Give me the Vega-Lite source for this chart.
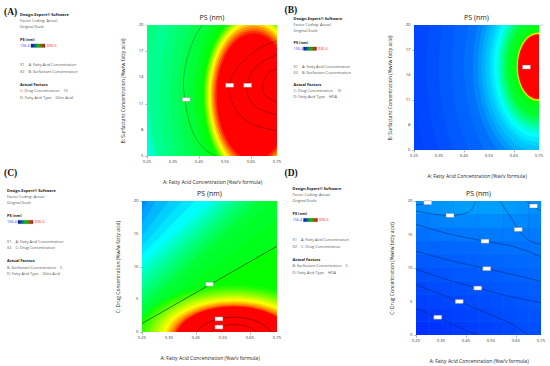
{
"$schema":"https://vega.github.io/schema/vega-lite/v6.json",
"padding":{"top":2,"left":0,"right":0,"bottom":0},
"config":{"view":{"stroke":null},"font":"Open Sans",
"point":{"filled":true,"opacity":1,"strokeWidth":0},
"axis":{"domain":false,"grid":false,"labels":false,"tickSize":2,"tickWidth":0.5,"tickColor":"#555","titleFontSize":5,"titleFontWeight":"normal","titleColor":"#222","titleFont":"Open Sans"},
"text":{"fontSize":4.2,"color":"#333"},
"title":{"fontSize":7,"fontWeight":"normal","color":"#222","offset":2,"font":"Open Sans"}},
"spacing":2,
"vconcat":[
{"spacing":0,"hconcat":[
{"width":120,"height":100,
"data":{"values":[
{"k":"p","t":"(A)","col":4,"line":-13},
{"k":"b","t":"Design-Expert® Software","col":20,"line":-9.7},
{"k":"n","t":"Factor Coding: Actual","col":20,"line":-3.7},
{"k":"n","t":"Original Scale","col":20,"line":2},
{"k":"b","t":"PS (nm)","col":20,"line":15},
{"k":"lo","t":"156.4","col":20,"line":20.7},
{"k":"bar","col":31,"col2":45,"line":19,"line2":22.4},
{"k":"hi","t":"836.6","col":47,"line":20.7},
{"k":"n","t":"X1 = A: Fatty Acid Concentration","col":20,"line":40},
{"k":"n","t":"X2 = B: Surfactant Concentration","col":20,"line":47},
{"k":"b","t":"Actual Factors","col":20,"line":60},
{"k":"n","t":"C: Drug Concentration = 10","col":20,"line":66},
{"k":"n","t":"D: Fatty Acid Type = Oleic Acid","col":20,"line":73},
{"k":"p","t":"(C)","col":4,"line":148}]},
"encoding":{"x":{"field":"col","type":"quantitative","scale":{"domain":[0,120],"nice":false,"zero":false},"axis":null},"y":{"field":"line","type":"quantitative","scale":{"domain":[100,0],"nice":false,"zero":false},"axis":null}},
"layer":[
{"transform":[{"filter":{"field":"k","equal":"p"}}],"mark":{"type":"text","font":"Liberation Serif","fontSize":9.5,"fontWeight":"bold","align":"left","baseline":"middle","color":"#111"},"encoding":{"text":{"field":"t"}}},
{"transform":[{"filter":{"field":"k","equal":"b"}}],"mark":{"type":"text","fontSize":3.9,"fontWeight":"bold","align":"left","baseline":"middle","color":"#222"},"encoding":{"text":{"field":"t"}}},
{"transform":[{"filter":{"field":"k","equal":"n"}}],"mark":{"type":"text","fontSize":3.8,"align":"left","baseline":"middle","color":"#555"},"encoding":{"text":{"field":"t"}}},
{"transform":[{"filter":{"field":"k","equal":"lo"}}],"mark":{"type":"text","fontSize":3.8,"align":"left","baseline":"middle","color":"#3333ff"},"encoding":{"text":{"field":"t"}}},
{"transform":[{"filter":{"field":"k","equal":"hi"}}],"mark":{"type":"text","fontSize":3.8,"align":"left","baseline":"middle","color":"#ff3333"},"encoding":{"text":{"field":"t"}}},
{"transform":[{"filter":{"field":"k","equal":"bar"}}],"mark":{"type":"rect","fill":{"gradient":"linear","stops":[{"offset":0,"color":"#0000ff"},{"offset":0.5,"color":"#00cc00"},{"offset":1,"color":"#ff0000"}]},"stroke":"#333","strokeWidth":0.3},"encoding":{"x2":{"field":"col2"},"y2":{"field":"line2"}}}]},
{"width":130,"height":131,
"title":{"text":["","PS (nm)"],"lineHeight":12},
"layer":[
{"data":{"values":[{"v":390}]},"mark":"rect","encoding":{
"x":{"datum":0.25,"type":"quantitative","scale":{"domain":[0.25,0.75],"nice":false,"zero":false},"axis":{"values":[0.25,0.35,0.45,0.55,0.65,0.75],"title":"A: Fatty Acid Concentration (%w/v formula)","titlePadding":21}},
"x2":{"datum":0.75},
"y":{"datum":5,"type":"quantitative","scale":{"domain":[5,20],"nice":false,"zero":false},"axis":{"values":[5,8,11,14,17,20],"title":"B: Surfactant Concentration  (%w/w fatty acid)","titlePadding":19}},
"y2":{"datum":20},
"color":{"field":"v","type":"quantitative","scale":{"domain":[156.4,326.5,496.5,666.6,836.6],"range":["#0000ff","#00ffff","#00ff00","#ffff00","#ff0000"],"interpolate":"rgb","clamp":true},"legend":null}}},
{"data":{"values":[{"y":5,"y2":6.5,"v":358},{"y":6.5,"y2":8,"v":366},{"y":8,"y2":9.5,"v":374},{"y":9.5,"y2":11,"v":382},{"y":11,"y2":12.5,"v":389},{"y":12.5,"y2":14,"v":395},{"y":14,"y2":15.5,"v":400},{"y":15.5,"y2":17,"v":404},{"y":17,"y2":18.5,"v":408},{"y":18.5,"y2":20,"v":412}]},
"mark":"rect","encoding":{"x":{"datum":0.25,"type":"quantitative","scale":{"domain":[0.25,0.75]}},"x2":{"datum":0.75},"y":{"field":"y","type":"quantitative","scale":{"domain":[5,20]}},"y2":{"field":"y2"},
"color":{"field":"v","type":"quantitative","scale":{"domain":[156.4,326.5,496.5,666.6,836.6],"range":["#0000ff","#00ffff","#00ff00","#ffff00","#ff0000"],"interpolate":"rgb","clamp":true},"legend":null}}},
{"encoding":{"x":{"datum":0.66,"type":"quantitative","scale":{"domain":[0.25,0.75]}},"y":{"datum":12,"type":"quantitative","scale":{"domain":[5,20]}},
"color":{"field":"v","type":"quantitative","scale":{"domain":[156.4,326.5,496.5,666.6,836.6],"range":["#0000ff","#00ffff","#00ff00","#ffff00","#ff0000"],"interpolate":"rgb","clamp":true},"legend":null}},
"layer":[
{"data":{"values":[{"v":400}]},"mark":{"type":"point","shape":"M-1,0A1,1.66 0 0,1 1,0A1,1.77 0 0,1 -1,0Z","size":43264,"clip":true}},
{"data":{"values":[{"v":415}]},"mark":{"type":"point","shape":"M-1,0A1,1.66 0 0,1 1,0A1,1.77 0 0,1 -1,0Z","size":35044,"clip":true}},
{"data":{"values":[{"v":430}]},"mark":{"type":"point","shape":"M-1,0A1,1.66 0 0,1 1,0A1,1.77 0 0,1 -1,0Z","size":28561,"clip":true}},
{"data":{"values":[{"v":445}]},"mark":{"type":"point","shape":"M-1,0A1,1.66 0 0,1 1,0A1,1.77 0 0,1 -1,0Z","size":22741,"clip":true}},
{"data":{"values":[{"v":460}]},"mark":{"type":"point","shape":"M-1,0A1,1.66 0 0,1 1,0A1,1.77 0 0,1 -1,0Z","size":18279,"clip":true}},
{"data":{"values":[{"v":475}]},"mark":{"type":"point","shape":"M-1,0A1,1.66 0 0,1 1,0A1,1.77 0 0,1 -1,0Z","size":14304,"clip":true}},
{"data":{"values":[{"v":488}]},"mark":{"type":"point","shape":"M-1,0A1,1.66 0 0,1 1,0A1,1.77 0 0,1 -1,0Z","size":11925,"clip":true}},
{"data":{"values":[{"v":496}]},"mark":{"type":"point","shape":"M-1,0A1,1.66 0 0,1 1,0A1,1.77 0 0,1 -1,0Z","size":10494,"clip":true}},
{"data":{"values":[{"v":530}]},"mark":{"type":"point","shape":"M-1,0A1,1.66 0 0,1 1,0A1,1.77 0 0,1 -1,0Z","size":9968,"clip":true}},
{"data":{"values":[{"v":565}]},"mark":{"type":"point","shape":"M-1,0A1,1.66 0 0,1 1,0A1,1.77 0 0,1 -1,0Z","size":9456,"clip":true}},
{"data":{"values":[{"v":600}]},"mark":{"type":"point","shape":"M-1,0A1,1.66 0 0,1 1,0A1,1.77 0 0,1 -1,0Z","size":8957,"clip":true}},
{"data":{"values":[{"v":635}]},"mark":{"type":"point","shape":"M-1,0A1,1.66 0 0,1 1,0A1,1.77 0 0,1 -1,0Z","size":8471,"clip":true}},
{"data":{"values":[{"v":666}]},"mark":{"type":"point","shape":"M-1,0A1,1.66 0 0,1 1,0A1,1.77 0 0,1 -1,0Z","size":7999,"clip":true}},
{"data":{"values":[{"v":700}]},"mark":{"type":"point","shape":"M-1,0A1,1.66 0 0,1 1,0A1,1.77 0 0,1 -1,0Z","size":7451,"clip":true}},
{"data":{"values":[{"v":735}]},"mark":{"type":"point","shape":"M-1,0A1,1.66 0 0,1 1,0A1,1.77 0 0,1 -1,0Z","size":6922,"clip":true}},
{"data":{"values":[{"v":770}]},"mark":{"type":"point","shape":"M-1,0A1,1.66 0 0,1 1,0A1,1.77 0 0,1 -1,0Z","size":6413,"clip":true}},
{"data":{"values":[{"v":805}]},"mark":{"type":"point","shape":"M-1,0A1,1.66 0 0,1 1,0A1,1.77 0 0,1 -1,0Z","size":5923,"clip":true}},
{"data":{"values":[{"v":836}]},"mark":{"type":"point","shape":"M-1,0A1,1.66 0 0,1 1,0A1,1.77 0 0,1 -1,0Z","size":5452,"clip":true}}]},
{"data":{"values":[
{"id":"o","i":0,"x":0.463,"y":20},{"id":"o","i":1,"x":0.437,"y":18.8},{"id":"o","i":2,"x":0.413,"y":17},{"id":"o","i":3,"x":0.397,"y":15.2},{"id":"o","i":4,"x":0.39,"y":13.2},{"id":"o","i":5,"x":0.396,"y":11.5},{"id":"o","i":6,"x":0.405,"y":9.8},{"id":"o","i":7,"x":0.42,"y":8.2},{"id":"o","i":8,"x":0.443,"y":6.8},{"id":"o","i":9,"x":0.475,"y":5.7},{"id":"o","i":10,"x":0.514,"y":5},
{"id":"a1","i":0,"x":0.75,"y":18.2},{"id":"a1","i":1,"x":0.69,"y":17.5},{"id":"a1","i":2,"x":0.63,"y":16.1},{"id":"a1","i":3,"x":0.585,"y":14.6},{"id":"a1","i":4,"x":0.566,"y":13},{"id":"a1","i":5,"x":0.575,"y":11.3},{"id":"a1","i":6,"x":0.605,"y":9.8},{"id":"a1","i":7,"x":0.66,"y":8.6},{"id":"a1","i":8,"x":0.75,"y":7.9},
{"id":"a2","i":0,"x":0.75,"y":16.6},{"id":"a2","i":1,"x":0.7,"y":15.9},{"id":"a2","i":2,"x":0.655,"y":14.7},{"id":"a2","i":3,"x":0.634,"y":13.1},{"id":"a2","i":4,"x":0.643,"y":11.6},{"id":"a2","i":5,"x":0.675,"y":10.5},{"id":"a2","i":6,"x":0.75,"y":9.7},
{"id":"a3","i":0,"x":0.75,"y":15},{"id":"a3","i":1,"x":0.715,"y":14.4},{"id":"a3","i":2,"x":0.695,"y":13.1},{"id":"a3","i":3,"x":0.705,"y":11.9},{"id":"a3","i":4,"x":0.75,"y":11.2}]},
"mark":{"type":"line","stroke":"#000","strokeOpacity":0.45,"strokeWidth":0.6,"interpolate":"catmull-rom","clip":true},
"encoding":{"x":{"field":"x","type":"quantitative","scale":{"domain":[0.25,0.75]}},"y":{"field":"y","type":"quantitative","scale":{"domain":[5,20]}},"detail":{"field":"id","type":"nominal"},"order":{"field":"i","type":"quantitative"}}},
{"data":{"values":[{"x":0.401,"y":11.47},{"x":0.568,"y":13.1},{"x":0.637,"y":13.1}]},
"mark":{"type":"point","shape":"M-1,-0.5H1V0.5H-1Z","filled":true,"fill":"#ffffff","stroke":"#777","strokeWidth":0.4,"opacity":1,"size":64},
"encoding":{"x":{"field":"x","type":"quantitative","scale":{"domain":[0.25,0.75]}},"y":{"field":"y","type":"quantitative","scale":{"domain":[5,20]}}}},
{"data":{"values":[{"t":"0.25","x":0.25},{"t":"0.35","x":0.35},{"t":"0.45","x":0.45},{"t":"0.55","x":0.55},{"t":"0.65","x":0.65},{"t":"0.75","x":0.75}]},
"mark":{"type":"text","baseline":"top","dy":4},
"encoding":{"x":{"field":"x","type":"quantitative","scale":{"domain":[0.25,0.75]}},"y":{"datum":5,"type":"quantitative","scale":{"domain":[5,20]}},"text":{"field":"t"}}},
{"data":{"values":[{"t":"5","y":5},{"t":"8","y":8},{"t":"11","y":11},{"t":"14","y":14},{"t":"17","y":17},{"t":"20","y":20}]},
"mark":{"type":"text","align":"right","baseline":"middle","dx":-3.5},
"encoding":{"x":{"datum":0.25,"type":"quantitative","scale":{"domain":[0.25,0.75]}},"y":{"field":"y","type":"quantitative","scale":{"domain":[5,20]}},"text":{"field":"t"}}}]},
{"width":105,"height":100,
"data":{"values":[
{"k":"p","t":"(B)","col":2.5,"line":-15.5},
{"k":"b","t":"Design-Expert® Software","col":11.5,"line":-6},
{"k":"n","t":"Factor Coding: Actual","col":11.5,"line":0},
{"k":"n","t":"Original Scale","col":11.5,"line":6},
{"k":"b","t":"PS (nm)","col":11.5,"line":18},
{"k":"lo","t":"156.4","col":11.5,"line":23.7},
{"k":"bar","col":21.5,"col2":34.5,"line":22,"line2":25.4},
{"k":"hi","t":"836.6","col":36,"line":23.7},
{"k":"n","t":"X1 = A: Fatty Acid Concentration","col":11.5,"line":42},
{"k":"n","t":"X2 = B: Surfactant Concentration","col":11.5,"line":48},
{"k":"b","t":"Actual Factors","col":11.5,"line":59.5},
{"k":"n","t":"C: Drug Concentration = 10","col":11.5,"line":65.5},
{"k":"n","t":"D: Fatty Acid Type = HDA","col":11.5,"line":71.5},
{"k":"p","t":"(D)","col":2.5,"line":148}]},
"encoding":{"x":{"field":"col","type":"quantitative","scale":{"domain":[0,105],"nice":false,"zero":false},"axis":null},"y":{"field":"line","type":"quantitative","scale":{"domain":[100,0],"nice":false,"zero":false},"axis":null}},
"layer":[
{"transform":[{"filter":{"field":"k","equal":"p"}}],"mark":{"type":"text","font":"Liberation Serif","fontSize":9.5,"fontWeight":"bold","align":"left","baseline":"middle","color":"#111"},"encoding":{"text":{"field":"t"}}},
{"transform":[{"filter":{"field":"k","equal":"b"}}],"mark":{"type":"text","fontSize":3.9,"fontWeight":"bold","align":"left","baseline":"middle","color":"#222"},"encoding":{"text":{"field":"t"}}},
{"transform":[{"filter":{"field":"k","equal":"n"}}],"mark":{"type":"text","fontSize":3.8,"align":"left","baseline":"middle","color":"#555"},"encoding":{"text":{"field":"t"}}},
{"transform":[{"filter":{"field":"k","equal":"lo"}}],"mark":{"type":"text","fontSize":3.8,"align":"left","baseline":"middle","color":"#3333ff"},"encoding":{"text":{"field":"t"}}},
{"transform":[{"filter":{"field":"k","equal":"hi"}}],"mark":{"type":"text","fontSize":3.8,"align":"left","baseline":"middle","color":"#ff3333"},"encoding":{"text":{"field":"t"}}},
{"transform":[{"filter":{"field":"k","equal":"bar"}}],"mark":{"type":"rect","fill":{"gradient":"linear","stops":[{"offset":0,"color":"#0000ff"},{"offset":0.5,"color":"#00cc00"},{"offset":1,"color":"#ff0000"}]},"stroke":"#333","strokeWidth":0.3},"encoding":{"x2":{"field":"col2"},"y2":{"field":"line2"}}}]},
{"width":125,"height":125,
"title":{"text":["","PS (nm)"],"lineHeight":12},
"layer":[
{"data":{"values":[{"v":200}]},"mark":"rect","encoding":{
"x":{"datum":0.25,"type":"quantitative","scale":{"domain":[0.25,0.75],"nice":false,"zero":false},"axis":{"values":[0.25,0.35,0.45,0.55,0.65,0.75],"title":"A: Fatty Acid Concentration (%w/v formula)","titlePadding":21}},
"x2":{"datum":0.75},
"y":{"datum":5,"type":"quantitative","scale":{"domain":[5,20],"nice":false,"zero":false},"axis":{"values":[5,8,11,14,17,20],"title":"B: Surfactant Concentration  (%w/w fatty acid)","titlePadding":19}},
"y2":{"datum":20},
"color":{"field":"v","type":"quantitative","scale":{"domain":[156.4,326.5,496.5,666.6,836.6],"range":["#0000ff","#00ffff","#00ff00","#ffff00","#ff0000"],"interpolate":"rgb","clamp":true},"legend":null}}},
{"encoding":{"x":{"datum":0.745,"type":"quantitative","scale":{"domain":[0.25,0.75]}},"y":{"datum":15,"type":"quantitative","scale":{"domain":[5,20]}},
"color":{"field":"v","type":"quantitative","scale":{"domain":[156.4,326.5,496.5,666.6,836.6],"range":["#0000ff","#00ffff","#00ff00","#ffff00","#ff0000"],"interpolate":"rgb","clamp":true},"legend":null}},
"layer":[
{"data":{"values":[{"v":204}]},"mark":{"type":"point","shape":"M-1,0A1,1.623 0 1,1 1,0A1,1.623 0 1,1 -1,0Z","size":62500,"clip":true}},
{"data":{"values":[{"v":210}]},"mark":{"type":"point","shape":"M-1,0A1,1.623 0 1,1 1,0A1,1.623 0 1,1 -1,0Z","size":49506,"clip":true}},
{"data":{"values":[{"v":215}]},"mark":{"type":"point","shape":"M-1,0A1,1.623 0 1,1 1,0A1,1.623 0 1,1 -1,0Z","size":39006,"clip":true}},
{"data":{"values":[{"v":222}]},"mark":{"type":"point","shape":"M-1,0A1,1.623 0 1,1 1,0A1,1.623 0 1,1 -1,0Z","size":29756,"clip":true}},
{"data":{"values":[{"v":231}]},"mark":{"type":"point","shape":"M-1,0A1,1.623 0 1,1 1,0A1,1.623 0 1,1 -1,0Z","size":21756,"clip":true}},
{"data":{"values":[{"v":245}]},"mark":{"type":"point","shape":"M-1,0A1,1.623 0 1,1 1,0A1,1.623 0 1,1 -1,0Z","size":16900,"clip":true}},
{"data":{"values":[{"v":260}]},"mark":{"type":"point","shape":"M-1,0A1,1.623 0 1,1 1,0A1,1.623 0 1,1 -1,0Z","size":14400,"clip":true}},
{"data":{"values":[{"v":273}]},"mark":{"type":"point","shape":"M-1,0A1,1.623 0 1,1 1,0A1,1.623 0 1,1 -1,0Z","size":12656,"clip":true}},
{"data":{"values":[{"v":287}]},"mark":{"type":"point","shape":"M-1,0A1,1.623 0 1,1 1,0A1,1.623 0 1,1 -1,0Z","size":11025,"clip":true}},
{"data":{"values":[{"v":300}]},"mark":{"type":"point","shape":"M-1,0A1,1.623 0 1,1 1,0A1,1.623 0 1,1 -1,0Z","size":9506,"clip":true}},
{"data":{"values":[{"v":313}]},"mark":{"type":"point","shape":"M-1,0A1,1.623 0 1,1 1,0A1,1.623 0 1,1 -1,0Z","size":8556,"clip":true}},
{"data":{"values":[{"v":326}]},"mark":{"type":"point","shape":"M-1,0A1,1.623 0 1,1 1,0A1,1.623 0 1,1 -1,0Z","size":7569,"clip":true}},
{"data":{"values":[{"v":350}]},"mark":{"type":"point","shape":"M-1,0A1,1.623 0 1,1 1,0A1,1.623 0 1,1 -1,0Z","size":6806,"clip":true}},
{"data":{"values":[{"v":375}]},"mark":{"type":"point","shape":"M-1,0A1,1.623 0 1,1 1,0A1,1.623 0 1,1 -1,0Z","size":6006,"clip":true}},
{"data":{"values":[{"v":400}]},"mark":{"type":"point","shape":"M-1,0A1,1.623 0 1,1 1,0A1,1.623 0 1,1 -1,0Z","size":5402,"clip":true}},
{"data":{"values":[{"v":425}]},"mark":{"type":"point","shape":"M-1,0A1,1.623 0 1,1 1,0A1,1.623 0 1,1 -1,0Z","size":4761,"clip":true}},
{"data":{"values":[{"v":450}]},"mark":{"type":"point","shape":"M-1,0A1,1.623 0 1,1 1,0A1,1.623 0 1,1 -1,0Z","size":4160,"clip":true}},
{"data":{"values":[{"v":470}]},"mark":{"type":"point","shape":"M-1,0A1,1.623 0 1,1 1,0A1,1.623 0 1,1 -1,0Z","size":3600,"clip":true}},
{"data":{"values":[{"v":485}]},"mark":{"type":"point","shape":"M-1,0A1,1.623 0 1,1 1,0A1,1.623 0 1,1 -1,0Z","size":2500,"clip":true}},
{"data":{"values":[{"v":496}]},"mark":{"type":"point","shape":"M-1,0A1,1.623 0 1,1 1,0A1,1.623 0 1,1 -1,0Z","size":1936,"clip":true}},
{"data":{"values":[{"v":580}]},"mark":{"type":"point","shape":"M-1,0A1,1.623 0 1,1 1,0A1,1.623 0 1,1 -1,0Z","size":1806,"clip":true}},
{"data":{"values":[{"v":666}]},"mark":{"type":"point","shape":"M-1,0A1,1.623 0 1,1 1,0A1,1.623 0 1,1 -1,0Z","size":1722,"clip":true}},
{"data":{"values":[{"v":750}]},"mark":{"type":"point","shape":"M-1,0A1,1.623 0 1,1 1,0A1,1.623 0 1,1 -1,0Z","size":1640,"clip":true}},
{"data":{"values":[{"v":836}]},"mark":{"type":"point","shape":"M-1,0A1,1.623 0 1,1 1,0A1,1.623 0 1,1 -1,0Z","size":1560,"clip":true}}]},
{"data":{"values":[{"x":0.7,"y":14.95}]},
"mark":{"type":"point","shape":"M-1,-0.5H1V0.5H-1Z","filled":true,"fill":"#ffffff","stroke":"#777","strokeWidth":0.4,"opacity":1,"size":64},
"encoding":{"x":{"field":"x","type":"quantitative","scale":{"domain":[0.25,0.75]}},"y":{"field":"y","type":"quantitative","scale":{"domain":[5,20]}}}},
{"data":{"values":[{"t":"0.25","x":0.25},{"t":"0.35","x":0.35},{"t":"0.45","x":0.45},{"t":"0.55","x":0.55},{"t":"0.65","x":0.65},{"t":"0.75","x":0.75}]},
"mark":{"type":"text","baseline":"top","dy":4},
"encoding":{"x":{"field":"x","type":"quantitative","scale":{"domain":[0.25,0.75]}},"y":{"datum":5,"type":"quantitative","scale":{"domain":[5,20]}},"text":{"field":"t"}}},
{"data":{"values":[{"t":"5","y":5},{"t":"8","y":8},{"t":"11","y":11},{"t":"14","y":14},{"t":"17","y":17},{"t":"20","y":20}]},
"mark":{"type":"text","align":"right","baseline":"middle","dx":-3.5},
"encoding":{"x":{"datum":0.25,"type":"quantitative","scale":{"domain":[0.25,0.75]}},"y":{"field":"y","type":"quantitative","scale":{"domain":[5,20]}},"text":{"field":"t"}}}]}
]},
{"spacing":0,"hconcat":[
{"width":115,"height":80,
"data":{"values":[
{"k":"b","t":"Design-Expert® Software","col":7,"line":-10},
{"k":"n","t":"Factor Coding: Actual","col":7,"line":-4},
{"k":"n","t":"Original Scale","col":7,"line":2},
{"k":"b","t":"PS (nm)","col":7,"line":15},
{"k":"lo","t":"156.4","col":7,"line":21},
{"k":"bar","col":18,"col2":33,"line":19.3,"line2":22.7},
{"k":"hi","t":"836.6","col":35,"line":21},
{"k":"n","t":"X1 = A: Fatty Acid Concentration","col":7,"line":41},
{"k":"n","t":"X2 = C: Drug Concentration","col":7,"line":47},
{"k":"b","t":"Actual Factors","col":7,"line":60},
{"k":"n","t":"B: Surfactant Concentration  = 5","col":7,"line":67},
{"k":"n","t":"D: Fatty Acid Type = Oleic Acid","col":7,"line":73}]},
"encoding":{"x":{"field":"col","type":"quantitative","scale":{"domain":[0,115],"nice":false,"zero":false},"axis":null},"y":{"field":"line","type":"quantitative","scale":{"domain":[80,0],"nice":false,"zero":false},"axis":null}},
"layer":[
{"transform":[{"filter":{"field":"k","equal":"b"}}],"mark":{"type":"text","fontSize":3.9,"fontWeight":"bold","align":"left","baseline":"middle","color":"#222"},"encoding":{"text":{"field":"t"}}},
{"transform":[{"filter":{"field":"k","equal":"n"}}],"mark":{"type":"text","fontSize":3.8,"align":"left","baseline":"middle","color":"#555"},"encoding":{"text":{"field":"t"}}},
{"transform":[{"filter":{"field":"k","equal":"lo"}}],"mark":{"type":"text","fontSize":3.8,"align":"left","baseline":"middle","color":"#3333ff"},"encoding":{"text":{"field":"t"}}},
{"transform":[{"filter":{"field":"k","equal":"hi"}}],"mark":{"type":"text","fontSize":3.8,"align":"left","baseline":"middle","color":"#ff3333"},"encoding":{"text":{"field":"t"}}},
{"transform":[{"filter":{"field":"k","equal":"bar"}}],"mark":{"type":"rect","fill":{"gradient":"linear","stops":[{"offset":0,"color":"#0000ff"},{"offset":0.5,"color":"#00cc00"},{"offset":1,"color":"#ff0000"}]},"stroke":"#333","strokeWidth":0.3},"encoding":{"x2":{"field":"col2"},"y2":{"field":"line2"}}}]},
{"width":135,"height":131,
"title":{"text":"PS (nm)"},
"layer":[
{"data":{"values":[{"v":500}]},"mark":"rect","encoding":{
"x":{"datum":0.25,"type":"quantitative","scale":{"domain":[0.25,0.75],"nice":false,"zero":false},"axis":{"values":[0.25,0.35,0.45,0.55,0.65,0.75],"title":"A: Fatty Acid Concentration (%w/v formula)","titlePadding":21}},
"x2":{"datum":0.75},
"y":{"datum":0,"type":"quantitative","scale":{"domain":[0,20],"nice":false,"zero":false},"axis":{"values":[0,5,10,15,20],"title":"C: Drug Concentration (%w/w fatty acid)","titlePadding":19}},
"y2":{"datum":20},
"color":{"field":"v","type":"quantitative","scale":{"domain":[156.4,326.5,496.5,666.6,836.6],"range":["#0000ff","#00ffff","#00ff00","#ffff00","#ff0000"],"interpolate":"rgb","clamp":true},"legend":null}}},
{"data":{"values":[
{"v":480,"x":0.25,"y":1.3},{"v":480,"x":0.75,"y":13.1},
{"v":470,"x":0.25,"y":1.9},{"v":470,"x":0.75,"y":17.3},
{"v":460,"x":0.25,"y":2.5},{"v":460,"x":0.727,"y":20},
{"v":440,"x":0.25,"y":3.8},{"v":440,"x":0.678,"y":20},
{"v":420,"x":0.25,"y":5.0},{"v":420,"x":0.638,"y":20},
{"v":400,"x":0.25,"y":6.3},{"v":400,"x":0.605,"y":20},
{"v":380,"x":0.25,"y":7.6},{"v":380,"x":0.577,"y":20},
{"v":360,"x":0.25,"y":8.8},{"v":360,"x":0.548,"y":20},
{"v":340,"x":0.25,"y":9.9},{"v":340,"x":0.52,"y":20},
{"v":326,"x":0.25,"y":10.6},{"v":326,"x":0.5,"y":20},
{"v":310,"x":0.25,"y":11.8},{"v":310,"x":0.447,"y":20},
{"v":295,"x":0.25,"y":13.1},{"v":295,"x":0.398,"y":20},
{"v":280,"x":0.25,"y":14.6},{"v":280,"x":0.349,"y":20},
{"v":265,"x":0.25,"y":16.4},{"v":265,"x":0.3,"y":20},
{"v":252,"x":0.25,"y":18.3},{"v":252,"x":0.27,"y":20}]},
"mark":{"type":"area","opacity":1,"clip":true},
"encoding":{"x":{"field":"x","type":"quantitative","scale":{"domain":[0.25,0.75]}},"y":{"field":"y","type":"quantitative","stack":null,"scale":{"domain":[0,20]}},"y2":{"datum":20},"detail":{"field":"v","type":"nominal"},
"color":{"field":"v","type":"quantitative","scale":{"domain":[156.4,326.5,496.5,666.6,836.6],"range":["#0000ff","#00ffff","#00ff00","#ffff00","#ff0000"],"interpolate":"rgb","clamp":true},"legend":null}}},
{"encoding":{"x":{"datum":0.59,"type":"quantitative","scale":{"domain":[0.25,0.75]}},"y":{"datum":-1,"type":"quantitative","scale":{"domain":[0,20]}},
"color":{"field":"v","type":"quantitative","scale":{"domain":[156.4,326.5,496.5,666.6,836.6],"range":["#0000ff","#00ffff","#00ff00","#ffff00","#ff0000"],"interpolate":"rgb","clamp":true},"legend":null}},
"layer":[
{"data":{"values":[{"v":510}]},"mark":{"type":"point","shape":"M-1,0A1,0.546 0 1,1 1,0A1,0.546 0 1,1 -1,0Z","size":38850,"clip":true}},
{"data":{"values":[{"v":530}]},"mark":{"type":"point","shape":"M-1,0A1,0.546 0 1,1 1,0A1,0.546 0 1,1 -1,0Z","size":35721,"clip":true}},
{"data":{"values":[{"v":555}]},"mark":{"type":"point","shape":"M-1,0A1,0.546 0 1,1 1,0A1,0.546 0 1,1 -1,0Z","size":32336,"clip":true}},
{"data":{"values":[{"v":580}]},"mark":{"type":"point","shape":"M-1,0A1,0.546 0 1,1 1,0A1,0.546 0 1,1 -1,0Z","size":29303,"clip":true}},
{"data":{"values":[{"v":605}]},"mark":{"type":"point","shape":"M-1,0A1,0.546 0 1,1 1,0A1,0.546 0 1,1 -1,0Z","size":26596,"clip":true}},
{"data":{"values":[{"v":630}]},"mark":{"type":"point","shape":"M-1,0A1,0.546 0 1,1 1,0A1,0.546 0 1,1 -1,0Z","size":24187,"clip":true}},
{"data":{"values":[{"v":650}]},"mark":{"type":"point","shape":"M-1,0A1,0.546 0 1,1 1,0A1,0.546 0 1,1 -1,0Z","size":22213,"clip":true}},
{"data":{"values":[{"v":666}]},"mark":{"type":"point","shape":"M-1,0A1,0.546 0 1,1 1,0A1,0.546 0 1,1 -1,0Z","size":20478,"clip":true}},
{"data":{"values":[{"v":690}]},"mark":{"type":"point","shape":"M-1,0A1,0.546 0 1,1 1,0A1,0.546 0 1,1 -1,0Z","size":19110,"clip":true}},
{"data":{"values":[{"v":715}]},"mark":{"type":"point","shape":"M-1,0A1,0.546 0 1,1 1,0A1,0.546 0 1,1 -1,0Z","size":17790,"clip":true}},
{"data":{"values":[{"v":740}]},"mark":{"type":"point","shape":"M-1,0A1,0.546 0 1,1 1,0A1,0.546 0 1,1 -1,0Z","size":16518,"clip":true}},
{"data":{"values":[{"v":765}]},"mark":{"type":"point","shape":"M-1,0A1,0.546 0 1,1 1,0A1,0.546 0 1,1 -1,0Z","size":15426,"clip":true}},
{"data":{"values":[{"v":790}]},"mark":{"type":"point","shape":"M-1,0A1,0.546 0 1,1 1,0A1,0.546 0 1,1 -1,0Z","size":14632,"clip":true}},
{"data":{"values":[{"v":815}]},"mark":{"type":"point","shape":"M-1,0A1,0.546 0 1,1 1,0A1,0.546 0 1,1 -1,0Z","size":13985,"clip":true}},
{"data":{"values":[{"v":836}]},"mark":{"type":"point","shape":"M-1,0A1,0.546 0 1,1 1,0A1,0.546 0 1,1 -1,0Z","size":13479,"clip":true}},
{"data":{"values":[{"v":900}]},"mark":{"type":"point","shape":"M-1,0A1,0.546 0 1,1 1,0A1,0.546 0 1,1 -1,0Z","size":6064,"filled":false,"stroke":"#700000","strokeWidth":0.6,"clip":true},"encoding":{"color":{"value":"#700000"}}},
{"data":{"values":[{"v":1000}]},"mark":{"type":"point","shape":"M-1,0A1,0.546 0 1,1 1,0A1,0.546 0 1,1 -1,0Z","size":2648,"filled":false,"stroke":"#700000","strokeWidth":0.6,"clip":true},"encoding":{"color":{"value":"#700000"}}}]},
{"data":{"values":[{"x":0.25,"y":1.3},{"x":0.75,"y":13.1}]},
"mark":{"type":"line","stroke":"#0b4a0b","strokeWidth":0.7,"clip":true},
"encoding":{"x":{"field":"x","type":"quantitative","scale":{"domain":[0.25,0.75]}},"y":{"field":"y","type":"quantitative","scale":{"domain":[0,20]}}}},
{"data":{"values":[{"x":0.5,"y":7.3},{"x":0.535,"y":2.0},{"x":0.535,"y":0.75}]},
"mark":{"type":"point","shape":"M-1,-0.5H1V0.5H-1Z","filled":true,"fill":"#ffffff","stroke":"#777","strokeWidth":0.4,"opacity":1,"size":64},
"encoding":{"x":{"field":"x","type":"quantitative","scale":{"domain":[0.25,0.75]}},"y":{"field":"y","type":"quantitative","scale":{"domain":[0,20]}}}},
{"data":{"values":[{"t":"0.25","x":0.25},{"t":"0.35","x":0.35},{"t":"0.45","x":0.45},{"t":"0.55","x":0.55},{"t":"0.65","x":0.65},{"t":"0.75","x":0.75}]},
"mark":{"type":"text","baseline":"top","dy":4},
"encoding":{"x":{"field":"x","type":"quantitative","scale":{"domain":[0.25,0.75]}},"y":{"datum":0,"type":"quantitative","scale":{"domain":[0,20]}},"text":{"field":"t"}}},
{"data":{"values":[{"t":"0","y":0},{"t":"5","y":5},{"t":"10","y":10},{"t":"15","y":15},{"t":"20","y":20}]},
"mark":{"type":"text","align":"right","baseline":"middle","dx":-3.5},
"encoding":{"x":{"datum":0.25,"type":"quantitative","scale":{"domain":[0.25,0.75]}},"y":{"field":"y","type":"quantitative","scale":{"domain":[0,20]}},"text":{"field":"t"}}}]},
{"width":107,"height":80,
"data":{"values":[
{"k":"b","t":"Design-Expert® Software","col":10.5,"line":-12},
{"k":"n","t":"Factor Coding: Actual","col":10.5,"line":-6},
{"k":"n","t":"Original Scale","col":10.5,"line":0},
{"k":"b","t":"PS (nm)","col":10.5,"line":13},
{"k":"lo","t":"156.4","col":10.5,"line":19},
{"k":"bar","col":21.5,"col2":35.5,"line":17.3,"line2":20.7},
{"k":"hi","t":"836.6","col":37,"line":19},
{"k":"n","t":"X1 = A: Fatty Acid Concentration","col":10.5,"line":39},
{"k":"n","t":"X2 = C: Drug Concentration","col":10.5,"line":46},
{"k":"b","t":"Actual Factors","col":10.5,"line":59},
{"k":"n","t":"B: Surfactant Concentration  = 5","col":10.5,"line":65},
{"k":"n","t":"D: Fatty Acid Type = HDA","col":10.5,"line":72}]},
"encoding":{"x":{"field":"col","type":"quantitative","scale":{"domain":[0,107],"nice":false,"zero":false},"axis":null},"y":{"field":"line","type":"quantitative","scale":{"domain":[80,0],"nice":false,"zero":false},"axis":null}},
"layer":[
{"transform":[{"filter":{"field":"k","equal":"b"}}],"mark":{"type":"text","fontSize":3.9,"fontWeight":"bold","align":"left","baseline":"middle","color":"#222"},"encoding":{"text":{"field":"t"}}},
{"transform":[{"filter":{"field":"k","equal":"n"}}],"mark":{"type":"text","fontSize":3.8,"align":"left","baseline":"middle","color":"#555"},"encoding":{"text":{"field":"t"}}},
{"transform":[{"filter":{"field":"k","equal":"lo"}}],"mark":{"type":"text","fontSize":3.8,"align":"left","baseline":"middle","color":"#3333ff"},"encoding":{"text":{"field":"t"}}},
{"transform":[{"filter":{"field":"k","equal":"hi"}}],"mark":{"type":"text","fontSize":3.8,"align":"left","baseline":"middle","color":"#ff3333"},"encoding":{"text":{"field":"t"}}},
{"transform":[{"filter":{"field":"k","equal":"bar"}}],"mark":{"type":"rect","fill":{"gradient":"linear","stops":[{"offset":0,"color":"#0000ff"},{"offset":0.5,"color":"#00cc00"},{"offset":1,"color":"#ff0000"}]},"stroke":"#333","strokeWidth":0.3},"encoding":{"x2":{"field":"col2"},"y2":{"field":"line2"}}}]},
{"width":125,"height":134,
"title":{"text":"PS (nm)"},
"layer":[
{"data":{"values":[{"v":225}]},"mark":"rect","encoding":{
"x":{"datum":0.25,"type":"quantitative","scale":{"domain":[0.25,0.75],"nice":false,"zero":false},"axis":{"values":[0.25,0.35,0.45,0.55,0.65,0.75],"title":"A: Fatty Acid Concentration (%w/v formula)","titlePadding":21}},
"x2":{"datum":0.75},
"y":{"datum":0,"type":"quantitative","scale":{"domain":[0,20],"nice":false,"zero":false},"axis":{"values":[0,5,10,15,20],"title":"C: Drug Concentration (%w/w fatty acid)","titlePadding":19}},
"y2":{"datum":20},
"color":{"field":"v","type":"quantitative","scale":{"domain":[156.4,326.5,496.5,666.6,836.6],"range":["#0000ff","#00ffff","#00ff00","#ffff00","#ff0000"],"interpolate":"rgb","clamp":true},"legend":null}}},
{"data":{"values":[
{"x":0.25,"x2":0.3,"y":0,"y2":2,"v":188},{"x":0.3,"x2":0.35,"y":0,"y2":2,"v":190},{"x":0.35,"x2":0.4,"y":0,"y2":2,"v":193},{"x":0.4,"x2":0.45,"y":0,"y2":2,"v":195},{"x":0.45,"x2":0.5,"y":0,"y2":2,"v":197},{"x":0.5,"x2":0.55,"y":0,"y2":2,"v":200},{"x":0.55,"x2":0.6,"y":0,"y2":2,"v":202},{"x":0.6,"x2":0.65,"y":0,"y2":2,"v":204},{"x":0.65,"x2":0.7,"y":0,"y2":2,"v":207},{"x":0.7,"x2":0.75,"y":0,"y2":2,"v":209},
{"x":0.25,"x2":0.3,"y":2,"y2":4,"v":193},{"x":0.3,"x2":0.35,"y":2,"y2":4,"v":195},{"x":0.35,"x2":0.4,"y":2,"y2":4,"v":197},{"x":0.4,"x2":0.45,"y":2,"y2":4,"v":199},{"x":0.45,"x2":0.5,"y":2,"y2":4,"v":201},{"x":0.5,"x2":0.55,"y":2,"y2":4,"v":204},{"x":0.55,"x2":0.6,"y":2,"y2":4,"v":206},{"x":0.6,"x2":0.65,"y":2,"y2":4,"v":208},{"x":0.65,"x2":0.7,"y":2,"y2":4,"v":210},{"x":0.7,"x2":0.75,"y":2,"y2":4,"v":212},
{"x":0.25,"x2":0.3,"y":4,"y2":6,"v":199},{"x":0.3,"x2":0.35,"y":4,"y2":6,"v":201},{"x":0.35,"x2":0.4,"y":4,"y2":6,"v":203},{"x":0.4,"x2":0.45,"y":4,"y2":6,"v":204},{"x":0.45,"x2":0.5,"y":4,"y2":6,"v":206},{"x":0.5,"x2":0.55,"y":4,"y2":6,"v":208},{"x":0.55,"x2":0.6,"y":4,"y2":6,"v":210},{"x":0.6,"x2":0.65,"y":4,"y2":6,"v":211},{"x":0.65,"x2":0.7,"y":4,"y2":6,"v":213},{"x":0.7,"x2":0.75,"y":4,"y2":6,"v":215},
{"x":0.25,"x2":0.3,"y":6,"y2":8,"v":204},{"x":0.3,"x2":0.35,"y":6,"y2":8,"v":206},{"x":0.35,"x2":0.4,"y":6,"y2":8,"v":207},{"x":0.4,"x2":0.45,"y":6,"y2":8,"v":209},{"x":0.45,"x2":0.5,"y":6,"y2":8,"v":211},{"x":0.5,"x2":0.55,"y":6,"y2":8,"v":212},{"x":0.55,"x2":0.6,"y":6,"y2":8,"v":214},{"x":0.6,"x2":0.65,"y":6,"y2":8,"v":216},{"x":0.65,"x2":0.7,"y":6,"y2":8,"v":217},{"x":0.7,"x2":0.75,"y":6,"y2":8,"v":219},
{"x":0.25,"x2":0.3,"y":8,"y2":10,"v":210},{"x":0.3,"x2":0.35,"y":8,"y2":10,"v":212},{"x":0.35,"x2":0.4,"y":8,"y2":10,"v":213},{"x":0.4,"x2":0.45,"y":8,"y2":10,"v":215},{"x":0.45,"x2":0.5,"y":8,"y2":10,"v":216},{"x":0.5,"x2":0.55,"y":8,"y2":10,"v":218},{"x":0.55,"x2":0.6,"y":8,"y2":10,"v":219},{"x":0.6,"x2":0.65,"y":8,"y2":10,"v":221},{"x":0.65,"x2":0.7,"y":8,"y2":10,"v":222},{"x":0.7,"x2":0.75,"y":8,"y2":10,"v":224},
{"x":0.25,"x2":0.3,"y":10,"y2":12,"v":216},{"x":0.3,"x2":0.35,"y":10,"y2":12,"v":217},{"x":0.35,"x2":0.4,"y":10,"y2":12,"v":219},{"x":0.4,"x2":0.45,"y":10,"y2":12,"v":220},{"x":0.45,"x2":0.5,"y":10,"y2":12,"v":221},{"x":0.5,"x2":0.55,"y":10,"y2":12,"v":223},{"x":0.55,"x2":0.6,"y":10,"y2":12,"v":224},{"x":0.6,"x2":0.65,"y":10,"y2":12,"v":225},{"x":0.65,"x2":0.7,"y":10,"y2":12,"v":227},{"x":0.7,"x2":0.75,"y":10,"y2":12,"v":228},
{"x":0.25,"x2":0.3,"y":12,"y2":14,"v":223},{"x":0.3,"x2":0.35,"y":12,"y2":14,"v":224},{"x":0.35,"x2":0.4,"y":12,"y2":14,"v":225},{"x":0.4,"x2":0.45,"y":12,"y2":14,"v":226},{"x":0.45,"x2":0.5,"y":12,"y2":14,"v":227},{"x":0.5,"x2":0.55,"y":12,"y2":14,"v":229},{"x":0.55,"x2":0.6,"y":12,"y2":14,"v":230},{"x":0.6,"x2":0.65,"y":12,"y2":14,"v":231},{"x":0.65,"x2":0.7,"y":12,"y2":14,"v":232},{"x":0.7,"x2":0.75,"y":12,"y2":14,"v":233},
{"x":0.25,"x2":0.3,"y":14,"y2":16,"v":231},{"x":0.3,"x2":0.35,"y":14,"y2":16,"v":233},{"x":0.35,"x2":0.4,"y":14,"y2":16,"v":235},{"x":0.4,"x2":0.45,"y":14,"y2":16,"v":236},{"x":0.45,"x2":0.5,"y":14,"y2":16,"v":237},{"x":0.5,"x2":0.55,"y":14,"y2":16,"v":238},{"x":0.55,"x2":0.6,"y":14,"y2":16,"v":238},{"x":0.6,"x2":0.65,"y":14,"y2":16,"v":239},{"x":0.65,"x2":0.7,"y":14,"y2":16,"v":238},{"x":0.7,"x2":0.75,"y":14,"y2":16,"v":238},
{"x":0.25,"x2":0.3,"y":16,"y2":18,"v":240},{"x":0.3,"x2":0.35,"y":16,"y2":18,"v":243},{"x":0.35,"x2":0.4,"y":16,"y2":18,"v":245},{"x":0.4,"x2":0.45,"y":16,"y2":18,"v":247},{"x":0.45,"x2":0.5,"y":16,"y2":18,"v":248},{"x":0.5,"x2":0.55,"y":16,"y2":18,"v":249},{"x":0.55,"x2":0.6,"y":16,"y2":18,"v":249},{"x":0.6,"x2":0.65,"y":16,"y2":18,"v":248},{"x":0.65,"x2":0.7,"y":16,"y2":18,"v":247},{"x":0.7,"x2":0.75,"y":16,"y2":18,"v":245},
{"x":0.25,"x2":0.3,"y":18,"y2":20,"v":249},{"x":0.3,"x2":0.35,"y":18,"y2":20,"v":254},{"x":0.35,"x2":0.4,"y":18,"y2":20,"v":258},{"x":0.4,"x2":0.45,"y":18,"y2":20,"v":261},{"x":0.45,"x2":0.5,"y":18,"y2":20,"v":262},{"x":0.5,"x2":0.55,"y":18,"y2":20,"v":263},{"x":0.55,"x2":0.6,"y":18,"y2":20,"v":262},{"x":0.6,"x2":0.65,"y":18,"y2":20,"v":260},{"x":0.65,"x2":0.7,"y":18,"y2":20,"v":256},{"x":0.7,"x2":0.75,"y":18,"y2":20,"v":252}]},
"mark":"rect","encoding":{"x":{"field":"x","type":"quantitative","scale":{"domain":[0.25,0.75]}},"x2":{"field":"x2"},"y":{"field":"y","type":"quantitative","scale":{"domain":[0,20]}},"y2":{"field":"y2"},
"color":{"field":"v","type":"quantitative","scale":{"domain":[156.4,326.5,496.5,666.6,836.6],"range":["#0000ff","#00ffff","#00ff00","#ffff00","#ff0000"],"interpolate":"rgb","clamp":true},"legend":null}}},
{"data":{"values":[
{"id":9,"x":0.25,"y":4.0},{"id":9,"x":0.337,"y":2.65},{"id":9,"x":0.42,"y":1.2},{"id":9,"x":0.5,"y":0},
{"id":8,"x":0.25,"y":7.5},{"id":8,"x":0.423,"y":5.0},{"id":8,"x":0.55,"y":3.0},{"id":8,"x":0.64,"y":1.5},{"id":8,"x":0.7,"y":0},
{"id":7,"x":0.25,"y":9.8},{"id":7,"x":0.38,"y":8.2},{"id":7,"x":0.497,"y":7.0},{"id":7,"x":0.62,"y":5.8},{"id":7,"x":0.75,"y":4.8},
{"id":6,"x":0.25,"y":12.5},{"id":6,"x":0.4,"y":11.0},{"id":6,"x":0.533,"y":9.9},{"id":6,"x":0.65,"y":8.9},{"id":6,"x":0.75,"y":8.0},
{"id":3,"x":0.25,"y":16.5},{"id":3,"x":0.37,"y":15.2},{"id":3,"x":0.526,"y":14.0},{"id":3,"x":0.64,"y":13.2},{"id":3,"x":0.75,"y":11.7},
{"id":4,"x":0.585,"y":20},{"id":4,"x":0.63,"y":17.5},{"id":4,"x":0.659,"y":15.75},{"id":4,"x":0.7,"y":14.2},{"id":4,"x":0.75,"y":13.5},
{"id":5,"x":0.69,"y":20},{"id":5,"x":0.72,"y":19.25},{"id":5,"x":0.75,"y":18.5},
{"id":2,"x":0.25,"y":18.5},{"id":2,"x":0.386,"y":17.85},{"id":2,"x":0.46,"y":18.3},{"id":2,"x":0.49,"y":20},
{"id":1,"x":0.25,"y":19.4},{"id":1,"x":0.297,"y":19.75},{"id":1,"x":0.31,"y":20}]},
"mark":{"type":"line","stroke":"#0a1a4a","strokeOpacity":0.7,"strokeWidth":0.6,"interpolate":"monotone","clip":true},
"encoding":{"x":{"field":"x","type":"quantitative","scale":{"domain":[0.25,0.75]}},"y":{"field":"y","type":"quantitative","scale":{"domain":[0,20]}},"detail":{"field":"id","type":"nominal"}}},
{"data":{"values":[{"x":0.297,"y":19.75},{"x":0.386,"y":17.85},{"x":0.526,"y":14.0},{"x":0.659,"y":15.75},{"x":0.72,"y":19.25},{"x":0.533,"y":9.9},{"x":0.497,"y":7.0},{"x":0.423,"y":5.0},{"x":0.337,"y":2.65}]},
"mark":{"type":"point","shape":"M-1,-0.5H1V0.5H-1Z","filled":true,"fill":"#ffffff","stroke":"#777","strokeWidth":0.4,"opacity":1,"size":64},
"encoding":{"x":{"field":"x","type":"quantitative","scale":{"domain":[0.25,0.75]}},"y":{"field":"y","type":"quantitative","scale":{"domain":[0,20]}}}},
{"data":{"values":[{"t":"0.25","x":0.25},{"t":"0.35","x":0.35},{"t":"0.45","x":0.45},{"t":"0.55","x":0.55},{"t":"0.65","x":0.65},{"t":"0.75","x":0.75}]},
"mark":{"type":"text","baseline":"top","dy":4},
"encoding":{"x":{"field":"x","type":"quantitative","scale":{"domain":[0.25,0.75]}},"y":{"datum":0,"type":"quantitative","scale":{"domain":[0,20]}},"text":{"field":"t"}}},
{"data":{"values":[{"t":"0","y":0},{"t":"5","y":5},{"t":"10","y":10},{"t":"15","y":15},{"t":"20","y":20}]},
"mark":{"type":"text","align":"right","baseline":"middle","dx":-3.5},
"encoding":{"x":{"datum":0.25,"type":"quantitative","scale":{"domain":[0.25,0.75]}},"y":{"field":"y","type":"quantitative","scale":{"domain":[0,20]}},"text":{"field":"t"}}}]}
]}
]
}
